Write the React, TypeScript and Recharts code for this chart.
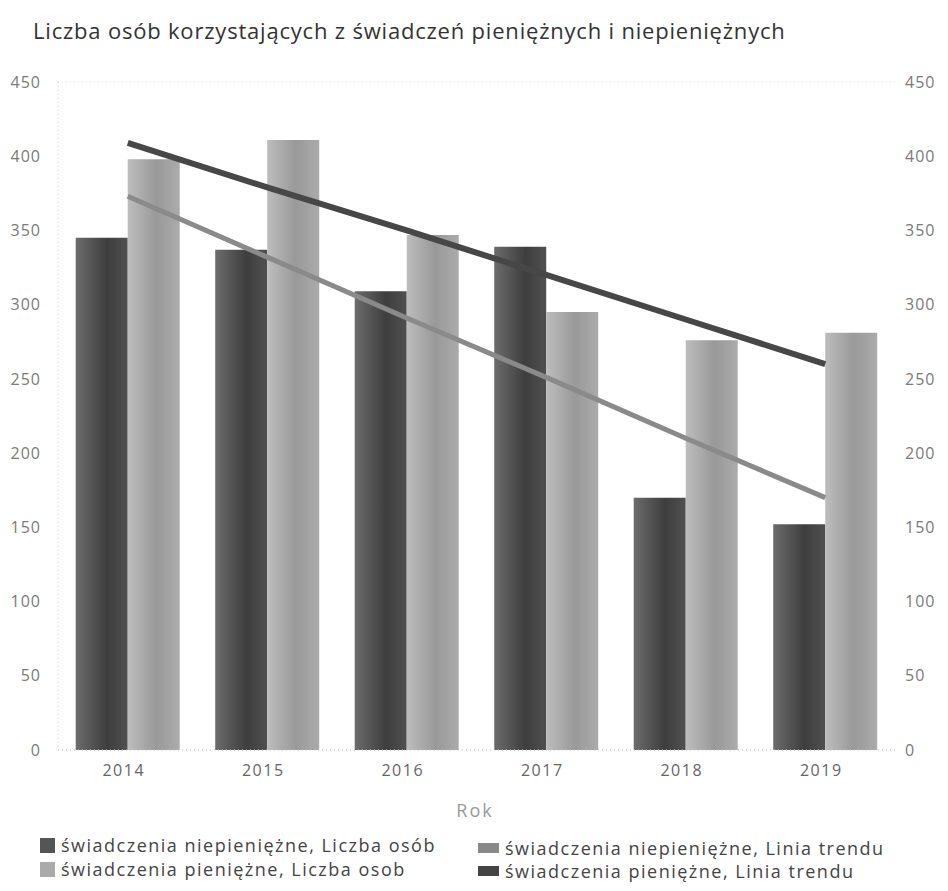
import {
  Bar,
  CartesianGrid,
  ComposedChart,
  Line,
  XAxis,
  YAxis,
} from "recharts";

const years = ["2014", "2015", "2016", "2017", "2018", "2019"];
const niepieniezne = [345, 337, 309, 339, 170, 152];
const pieniezne = [398, 411, 347, 295, 276, 281];
const trendNiepieniezne = [373, 332, 291, 251, 210, 170];
const trendPieniezne = [409, 379, 350, 320, 290, 260];
const yTicks = [0, 50, 100, 150, 200, 250, 300, 350, 400, 450];

const data = years.map((rok, i) => ({
  rok,
  niep: niepieniezne[i],
  pien: pieniezne[i],
  tNiep: trendNiepieniezne[i],
  tPien: trendPieniezne[i],
}));

const font = "'Open Sans', 'Noto Sans', sans-serif";
const yTickStyle = { fontSize: 16, fill: "#7a7a7a", fontFamily: font, letterSpacing: 1 };
const xTickStyle = { fontSize: 16, fill: "#666", fontFamily: font, letterSpacing: 1.5 };

const legendItems = [
  { label: "świadczenia niepieniężne, Liczba osób", color: "#555", x: 32, y: 837, w: 15, h: 15 },
  { label: "świadczenia pieniężne, Liczba osob", color: "#aaa", x: 32, y: 861, w: 15, h: 15 },
  { label: "świadczenia niepieniężne, Linia trendu", color: "#888", x: 470, y: 840, w: 21, h: 10 },
  { label: "świadczenia pieniężne, Linia trendu", color: "#444", x: 470, y: 863, w: 21, h: 10 },
];

export default function App() {
  return (
    <div style={{ position: "relative", width: 932, height: 875, fontFamily: font }}>
      <div
        style={{
          position: "absolute",
          left: 25,
          top: 7,
          fontSize: 22,
          letterSpacing: 0.8,
          color: "#333",
          whiteSpace: "nowrap",
        }}
      >
        Liczba osób korzystających z świadczeń pieniężnych i niepieniężnych
      </div>
      <ComposedChart
        width={932}
        height={875}
        data={data}
        margin={{ top: 74, right: 0, bottom: 103, left: 0 }}
        barGap={0}
        barCategoryGap="12.7%"
      >
        <defs>
          <linearGradient id="gDark" x1="0" y1="0" x2="1" y2="0">
            <stop offset="0%" stopColor="#6c6c6c" />
            <stop offset="60%" stopColor="#3e3e3e" />
            <stop offset="100%" stopColor="#505050" />
          </linearGradient>
          <linearGradient id="gLight" x1="0" y1="0" x2="1" y2="0">
            <stop offset="0%" stopColor="#bdbdbd" />
            <stop offset="55%" stopColor="#999" />
            <stop offset="100%" stopColor="#ababab" />
          </linearGradient>
        </defs>
        <CartesianGrid vertical={false} stroke="#d4d4d4" strokeDasharray="1 3" />
        <XAxis
          dataKey="rok"
          height={30}
          tickLine={false}
          tickMargin={9}
          axisLine={{ stroke: "#ccc", strokeDasharray: "1 3" }}
          tick={{ ...xTickStyle, dx: -4 }}
        />
        <YAxis
          yAxisId="left"
          width={50}
          domain={[0, 450]}
          ticks={yTicks}
          tickLine={false}
          tickMargin={11}
          axisLine={{ stroke: "#ccc", strokeDasharray: "1 3" }}
          tick={yTickStyle}
        />
        <YAxis
          yAxisId="right"
          orientation="right"
          width={45}
          domain={[0, 450]}
          ticks={yTicks}
          tickLine={false}
          tickMargin={4}
          axisLine={false}
          tick={{ ...yTickStyle, textAnchor: "start" }}
        />
        <Bar yAxisId="left" dataKey="niep" fill="url(#gDark)" isAnimationActive={false} />
        <Bar yAxisId="left" dataKey="pien" fill="url(#gLight)" isAnimationActive={false} />
        <Line
          yAxisId="right"
          dataKey="tNiep"
          type="linear"
          stroke="#8a8a8a"
          strokeWidth={5}
          dot={false}
          isAnimationActive={false}
        />
        <Line
          yAxisId="right"
          dataKey="tPien"
          type="linear"
          stroke="#474747"
          strokeWidth={6}
          dot={false}
          isAnimationActive={false}
        />
      </ComposedChart>
      <div
        style={{
          position: "absolute",
          left: 447,
          width: 40,
          top: 790,
          textAlign: "center",
          fontSize: 18,
          letterSpacing: 2,
          color: "#999",
        }}
      >
        Rok
      </div>
      {legendItems.map((item) => (
        <div
          key={item.label}
          style={{
            position: "absolute",
            left: item.x,
            top: item.y - 10,
            height: 20,
            display: "flex",
            alignItems: "center",
            fontSize: 18,
            letterSpacing: 1.5,
            color: "#444",
            whiteSpace: "nowrap",
          }}
        >
          <span
            style={{
              display: "inline-block",
              width: item.w,
              height: item.h,
              background: item.color,
              marginRight: 6,
            }}
          />
          {item.label}
        </div>
      ))}
    </div>
  );
}
